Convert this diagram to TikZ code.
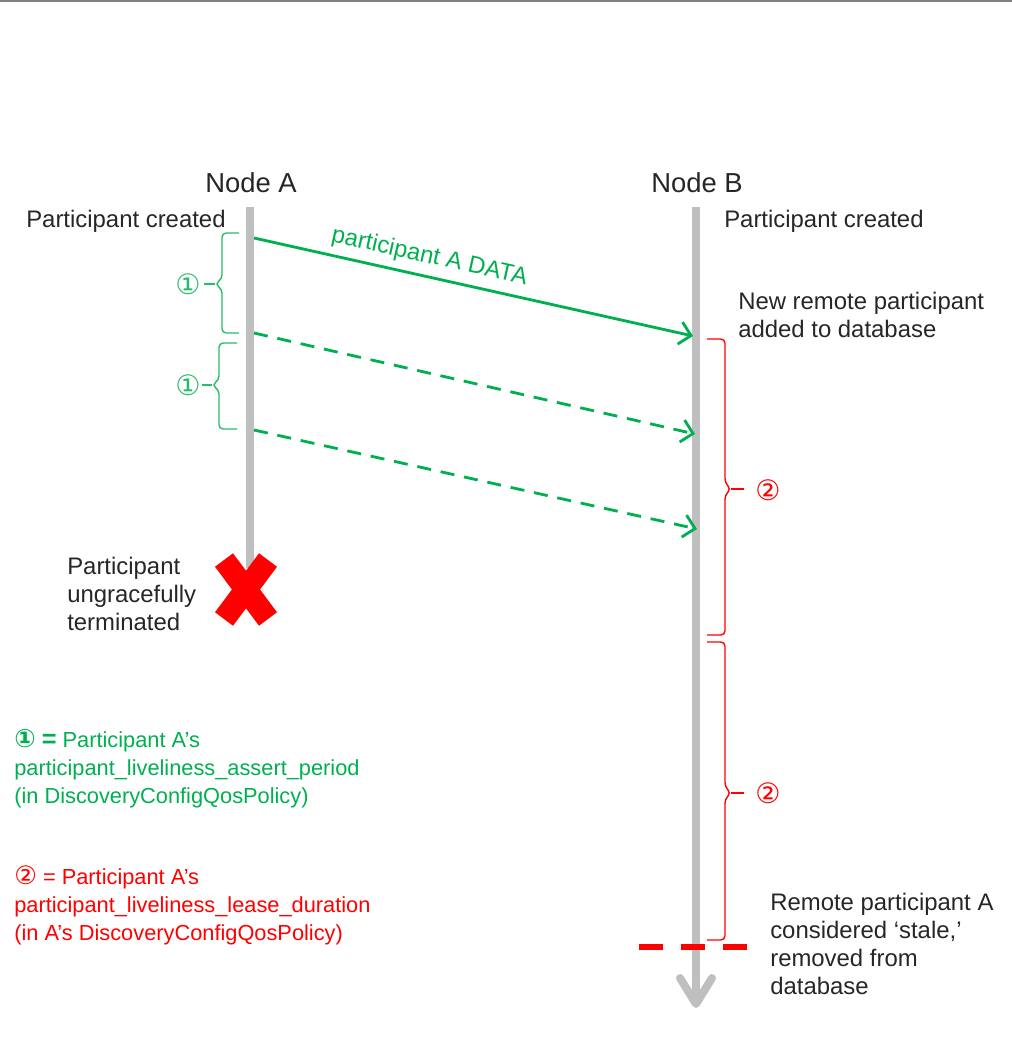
\documentclass[tikz,border=0pt]{standalone}
\usepackage{fontspec}
\setmainfont{Liberation Sans}
\newfontfamily\circfont{DejaVu Sans}
\usepackage{xcolor}
\definecolor{seqgreen}{RGB}{0,176,80}
\definecolor{seqred}{RGB}{255,0,0}
\definecolor{lifegray}{RGB}{191,191,191}
\definecolor{txtgray}{RGB}{38,38,38}
\usetikzlibrary{arrows.meta}

\begin{document}
\begin{tikzpicture}[x=0.025cm, y=-0.025cm,
    lifeline/.style={lifegray, line width=5.7pt},
    msg/.style={seqgreen, line width=2pt, -{Straight Barb[length=8pt, width=16pt]}},
    gbrace/.style={seqgreen!85, line width=1pt, rounded corners=3pt},
    rbrace/.style={seqred, line width=1pt, rounded corners=3pt},
    circ/.style={inner sep=0pt, font=\fontsize{20}{22}\circfont},
    lbl/.style={inner sep=0pt, text=txtgray, font=\fontsize{17}{20}\selectfont},
    legend/.style={inner sep=0pt, anchor=west, align=left, font=\fontsize{15.5}{19.9}\selectfont}]
  \useasboundingbox (0,0) rectangle (1012,1039);
  \draw[gray, line width=1.4pt] (0,1) -- (1012,1);

  % Lifeline headers
  \node[lbl, font=\fontsize{19.5}{22}\selectfont] (nodeA) at (251,183) {Node A};
  \node[lbl, font=\fontsize{19.5}{22}\selectfont] (nodeB) at (697,183) {Node B};

  % Lifelines
  \draw[lifeline] (250,207) -- (250,568);
  \draw[lifeline] (696,207) -- (696,1004);
  \draw[lifeline, line cap=round, line join=round] (680,978) -- (696,1004) -- (712,978);

  % Message end points
  \coordinate (a1) at (254,238);
  \coordinate (a2) at (254,333);
  \coordinate (a3) at (254,430);
  \coordinate (b1) at (693,336);
  \coordinate (b2) at (695,434);
  \coordinate (b3) at (697,529);

  % Messages
  \draw[msg] (a1) -- node[pos=0.39, sloped, above=5pt, inner sep=0pt, font=\fontsize{17}{20}\selectfont]{participant A DATA} (b1);
  \draw[msg, dash pattern=on 10pt off 7pt] (a2) -- (b2);
  \draw[msg, dash pattern=on 10pt off 7pt] (a3) -- (b3);

  % Assert period braces
  \draw[gbrace] (239,233) -- (222,233) -- (222,279) -- (215,284) -- (222,289) -- (222,333) -- (239,333);
  \draw[gbrace] (215,284) -- (204,284);
  \node[circ, text=seqgreen!85] (per1) at (188,284) {①};
  \draw[gbrace] (237,343) -- (219,343) -- (219,380) -- (212,385) -- (219,390) -- (219,429) -- (237,429);
  \draw[gbrace] (212,385) -- (202,385);
  \node[circ, text=seqgreen!85] (per2) at (188,385) {①};

  % Lease duration braces
  \draw[rbrace] (707,339) -- (725,339) -- (725,483) -- (731,489) -- (725,495) -- (725,635) -- (707,635);
  \draw[rbrace] (731,489) -- (744,489);
  \node[circ, text=seqred] (lease1) at (768,490) {②};
  \draw[rbrace] (707,642) -- (725,642) -- (725,787) -- (731,793) -- (725,799) -- (725,940) -- (707,940);
  \draw[rbrace] (731,793) -- (744,793);
  \node[circ, text=seqred] (lease2) at (768,793) {②};

  % Termination
  \draw[seqred, line width=16pt] (224,560) -- (268,619);
  \draw[seqred, line width=16pt] (268,560) -- (224,619);
  \draw[seqred, line width=3.6pt, dash pattern=on 17pt off 12.8pt] (639,947) -- (747,947);

  % Event texts
  \node[lbl, anchor=west] (createdA) at (26,221) {Participant created};
  \node[lbl, anchor=west] (createdB) at (724,221) {Participant created};
  \node[lbl, anchor=west, align=left] (added) at (738,315) {New remote participant\\added to database};
  \node[lbl, anchor=west, align=left] (killed) at (67,594) {Participant\\ungracefully\\terminated};
  \node[lbl, anchor=west, align=left] (stale) at (770,944) {Remote participant A\\considered ‘stale,’\\removed from\\database};

  % Legend
  \node[legend, text=seqgreen] (legA) at (14,769) {{\circfont\bfseries\fontsize{18}{20}\selectfont ①} \textbf{\fontsize{18}{20}\selectfont =} Participant A’s\\participant\_liveliness\_assert\_period\\(in DiscoveryConfigQosPolicy)};
  \node[legend, text=seqred] (legB) at (14,905) {{\circfont\fontsize{18}{20}\selectfont ②} = Participant A’s\\participant\_liveliness\_lease\_duration\\(in A’s DiscoveryConfigQosPolicy)};
\end{tikzpicture}
\end{document}
